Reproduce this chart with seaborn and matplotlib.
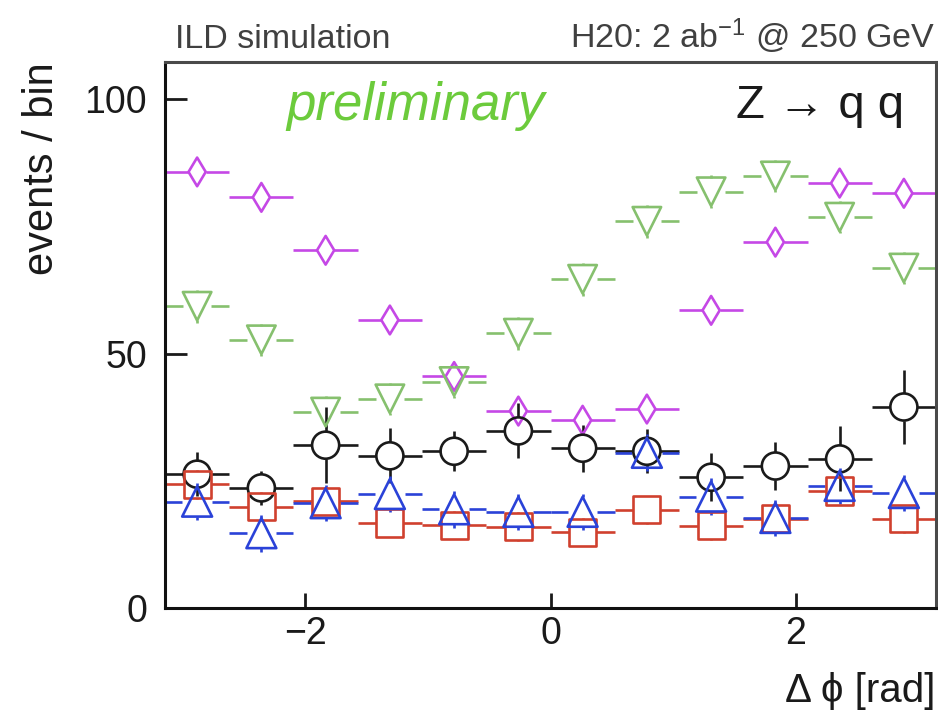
import numpy as np
import pandas as pd
import matplotlib
matplotlib.use("Agg")
import matplotlib.pyplot as plt
import seaborn as sns

# Azimuthal-angle histogram, 12 bins spanning [-pi, pi]
n_bins = 12
edges = np.linspace(-np.pi, np.pi, n_bins + 1)
centers = 0.5 * (edges[:-1] + edges[1:])
half_width = 0.5 * (edges[1] - edges[0])

# Events per bin for each sample
diamond_vals = [85.7, 80.7, 70.3, 56.6, 45.5, 38.7, 36.9, 39.1, 58.5, 71.9, 83.5, 81.5]
diamond_errs = [2.5, 2.5, 2.5, 2.5, 2.5, 2.5, 2.5, 2.5, 2.5, 2.5, 2.5, 2.5]
tridown_vals = [59.3, 52.7, 38.5, 41.1, 44.5, 54.0, 64.6, 76.0, 81.8, 84.9, 76.8, 66.8]
tridown_errs = [3.2, 3.2, 3.2, 3.2, 3.2, 3.2, 3.2, 3.2, 3.2, 3.2, 3.2, 3.2]
circle_vals = [26.3, 23.6, 32.0, 29.9, 30.8, 34.8, 31.4, 30.8, 25.7, 27.9, 29.3, 39.5]
circle_errs = [4.3, 3.3, 7.5, 5.4, 3.9, 5.4, 4.6, 4.3, 4.7, 4.8, 6.4, 7.2]
square_vals = [24.3, 19.9, 21.0, 16.7, 16.3, 16.0, 14.9, 19.3, 16.2, 17.5, 23.0, 17.5]
square_errs = [2.8, 2.8, 2.8, 2.8, 2.8, 2.8, 2.8, 2.8, 2.8, 2.8, 2.8, 2.8]
triup_vals = [20.9, 14.7, 20.6, 22.4, 19.4, 18.9, 18.9, 30.5, 21.9, 17.7, 24.0, 22.6]
triup_errs = [3.6, 3.6, 3.6, 3.6, 3.6, 3.6, 3.6, 3.6, 3.6, 3.6, 3.6, 3.6]

x_ticks = [-2, 0, 2]
y_ticks = [0, 50, 100]

# name: (values, errors, marker, markersize [pt], half width / half height of marker [pt], colour)
samples = {
    "diamond": (diamond_vals, diamond_errs, "d", 14.6, 6.2, 10.3, "#c548e6"),
    "tridown": (tridown_vals, tridown_errs, "v", 20.5, 10.2, 10.2, "#86c06e"),
    "circle": (circle_vals, circle_errs, "o", 19.5, 9.75, 9.75, "#1a1a1a"),
    "square": (square_vals, square_errs, "s", 19.5, 9.75, 9.75, "#d0402e"),
    "triup": (triup_vals, triup_errs, "^", 21.5, 10.7, 10.7, "#2a42d8"),
}

rows = []
for name, (vals, errs, *_rest) in samples.items():
    for c, v, e in zip(centers, vals, errs):
        rows.append({"sample": name, "dphi": c, "events": v, "err": e})
df = pd.DataFrame(rows)

sns.set_theme(style="white")
plt.rcParams["font.family"] = ["Liberation Sans", "DejaVu Sans"]
plt.rcParams["mathtext.default"] = "regular"

dpi = 100
ymax = 107.3
fig = plt.figure(figsize=(9.38, 7.13), dpi=dpi)
ax = fig.add_axes([165 / 938, 1 - 608 / 713, (936 - 165) / 938, (608 - 62) / 713])
ax.set_xlim(-np.pi, np.pi)
ax.set_ylim(0, ymax)

bbox = ax.get_window_extent()
px_per_x = bbox.width / (2 * np.pi)
px_per_y = bbox.height / ymax
pt2px = dpi / 72.0

for name, (vals, errs, marker, ms, half_w, half_h, color) in samples.items():
    sub = df[df["sample"] == name]
    x = sub["dphi"].to_numpy()
    y = sub["events"].to_numpy()
    e = sub["err"].to_numpy()
    gx = half_w * pt2px / px_per_x
    gy = half_h * pt2px / px_per_y
    # horizontal bin-width bars, interrupted by the marker
    ax.hlines(y, x - half_width, x - gx, color=color, lw=1.9, zorder=2)
    ax.hlines(y, x + gx, x + half_width, color=color, lw=1.9, zorder=2)
    # vertical error bars outside the marker
    show = e > gy
    ax.vlines(x[show], y[show] + gy, y[show] + e[show], color=color, lw=1.9, zorder=2)
    ax.vlines(x[show], y[show] - e[show], y[show] - gy, color=color, lw=1.9, zorder=2)
    sns.scatterplot(x=x, y=y, marker=marker, s=ms ** 2, ax=ax, zorder=3,
                    legend=False, color=color)
    pts = ax.collections[-1]
    pts.set_facecolor("none")
    pts.set_edgecolor(color)
    pts.set_linewidth(1.9)

ax.set_xticks(x_ticks)
ax.set_yticks(y_ticks)
ax.set_xticklabels(["\u22122", "0", "2"])
ax.set_xlabel("")
ax.set_ylabel("")
ax.tick_params(axis="y", direction="in", length=16, width=2, pad=13,
               labelsize=27, colors="#1a1a1a", left=True, right=False)
ax.tick_params(axis="x", direction="in", length=11, width=2, pad=6,
               labelsize=27, colors="#1a1a1a", bottom=True, top=False)

for side in ["left", "bottom"]:
    ax.spines[side].set_color("#111111")
    ax.spines[side].set_linewidth(2.2)
for side in ["top", "right"]:
    ax.spines[side].set_color("#4a4a4a")
    ax.spines[side].set_linewidth(2.2)
    ax.spines[side].set_visible(True)

fig.text(175 / 938, 1 - 48 / 713, "ILD simulation", fontsize=24.5,
         color="#404040", ha="left", va="baseline")
fig.text(935 / 938, 1 - 48 / 713, "H20: 2 ab$^{-1}$ @ 250 GeV", fontsize=24.5,
         color="#404040", ha="right", va="baseline")
fig.text(286 / 938, 1 - 120 / 713, "preliminary", fontsize=38, style="italic",
         color="#6ccb3c", ha="left", va="baseline")
fig.text(904 / 938, 1 - 118 / 713, "Z \u2192 q q", fontsize=34,
         color="#1a1a1a", ha="right", va="baseline")
fig.text(935 / 938, 1 - 702 / 713, "\u0394 \u03d5 [rad]", fontsize=29,
         color="#1a1a1a", ha="right", va="baseline")
fig.text(42 / 938, 1 - 62 / 713, "events / bin", fontsize=30, rotation=90,
         color="#1a1a1a", ha="center", va="top")

fig.savefig("out.png", dpi=dpi)
